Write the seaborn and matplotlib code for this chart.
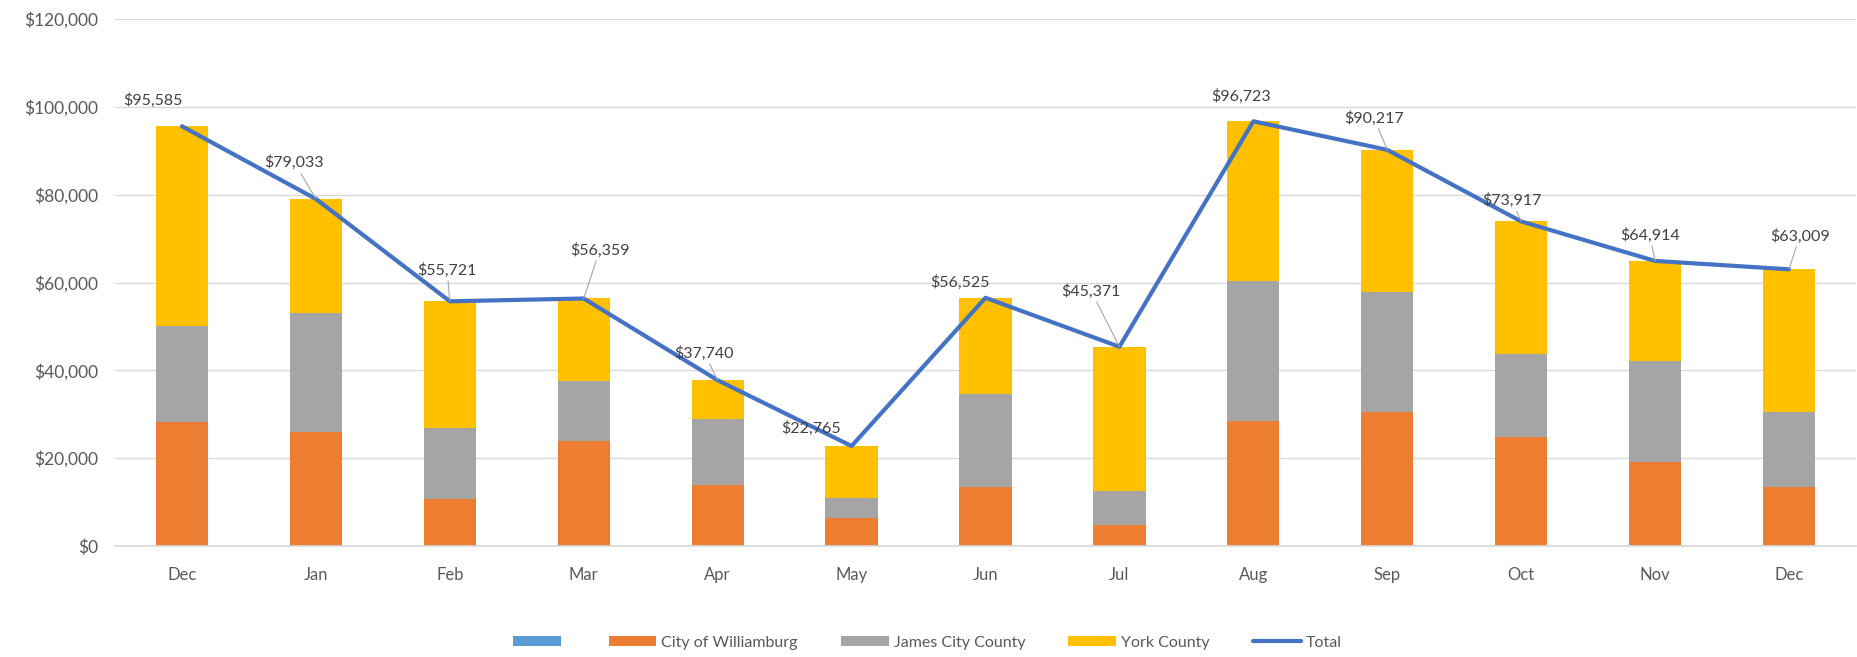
import matplotlib
matplotlib.use("Agg")
import matplotlib.pyplot as plt
import seaborn as sns
import pandas as pd
from matplotlib.patches import Patch
from matplotlib.lines import Line2D
from matplotlib.ticker import FuncFormatter

# Monthly collections by locality
months = ["Dec", "Jan", "Feb", "Mar", "Apr", "May", "Jun", "Jul", "Aug", "Sep", "Oct", "Nov", "Dec"]
williamsburg = [28300, 26040, 10720, 24000, 13960, 6260, 13430, 4680, 28530, 30570, 24760, 19090, 13430]
james_city = [21890, 27020, 16220, 13510, 14950, 4680, 21130, 7920, 31850, 27320, 19020, 22950, 16980]
york = [45395, 25973, 28781, 18849, 8830, 11825, 21965, 32771, 36343, 32327, 30137, 22874, 32599]
totals = [95585, 79033, 55721, 56359, 37740, 22765, 56525, 45371, 96723, 90217, 73917, 64914, 63009]

# Label placement: offset in category units and label height in dollars
label_dx = [-0.22, -0.16, -0.02, 0.12, -0.10, -0.30, -0.19, -0.21, -0.09, -0.10, -0.07, -0.04, 0.08]
label_y = [101500, 87300, 62800, 67400, 43900, 26800, 60000, 58000, 102500, 97500, 78700, 70800, 70600]
leader = [False, True, True, True, True, False, False, True, False, True, True, True, True]

C_BLUE_LEG = "#5B9BD5"
C_ORANGE = "#ED7D31"
C_GREY = "#A5A5A5"
C_YELLOW = "#FFC000"
C_LINE = "#4472C4"

sns.set_theme(style="white")
plt.rcParams["font.family"] = ["Lato", "DejaVu Sans"]

pos = list(range(len(months)))
df = pd.DataFrame({"pos": pos, "w": williamsburg, "j": james_city, "y": york, "t": totals})
bottom_j = [a for a in williamsburg]
bottom_y = [a + b for a, b in zip(williamsburg, james_city)]

fig = plt.figure(figsize=(18.58, 6.57), dpi=100)
ax = fig.add_axes([0.0619, 0.169, 0.937, 0.802])

bw = 0.39
sns.barplot(data=df, x="pos", y="w", color=C_ORANGE, width=bw, ax=ax, saturation=1, linewidth=0)
sns.barplot(data=df, x="pos", y="j", color=C_GREY, width=bw, ax=ax, saturation=1, linewidth=0, bottom=bottom_j)
sns.barplot(data=df, x="pos", y="y", color=C_YELLOW, width=bw, ax=ax, saturation=1, linewidth=0, bottom=bottom_y)
sns.lineplot(data=df, x="pos", y="t", color=C_LINE, lw=3.0, ax=ax, zorder=5)

for i, t in enumerate(totals):
    props = dict(arrowstyle="-", color="#A6A6A6", lw=0.8, shrinkA=0, shrinkB=0) if leader[i] else None
    ax.annotate(f"${t:,}", xy=(i, t), xytext=(i + label_dx[i], label_y[i]),
                ha="center", va="center", fontsize=11.5, color="#404040",
                arrowprops=props, zorder=6)

ax.set_xlim(-0.5, len(months) - 0.5)
ax.set_ylim(0, 120000)
ax.set_yticks(range(0, 120001, 20000))
ax.yaxis.set_major_formatter(FuncFormatter(lambda v, p: f"${int(v):,}"))
ax.set_xticks(pos)
ax.set_xticklabels(months)
ax.set_xlabel("")
ax.set_ylabel("")
ax.grid(axis="y", color="#D9D9D9", lw=1.0)
ax.set_axisbelow(True)
for s in ["top", "right", "left"]:
    ax.spines[s].set_visible(False)
ax.spines["bottom"].set_color("#D9D9D9")
ax.tick_params(axis="y", length=0, pad=12, labelsize=12.5, labelcolor="#595959")
ax.tick_params(axis="x", length=0, pad=15, labelsize=12, labelcolor="#595959")

handles = [
    Patch(facecolor=C_BLUE_LEG, edgecolor="none"),
    Patch(facecolor=C_ORANGE, edgecolor="none"),
    Patch(facecolor=C_GREY, edgecolor="none"),
    Patch(facecolor=C_YELLOW, edgecolor="none"),
    Line2D([0], [0], color=C_LINE, lw=3.0),
]
labels = ["", "City of Williamburg", "James City County", "York County", "Total"]
fig.legend(handles, labels, loc="center", bbox_to_anchor=(0.499, 0.022), ncol=5,
           frameon=False, fontsize=11.5, handlelength=3.0, handleheight=0.55,
           columnspacing=2.7, handletextpad=0.3, labelcolor="#595959")

fig.savefig("out.png", dpi=100)
